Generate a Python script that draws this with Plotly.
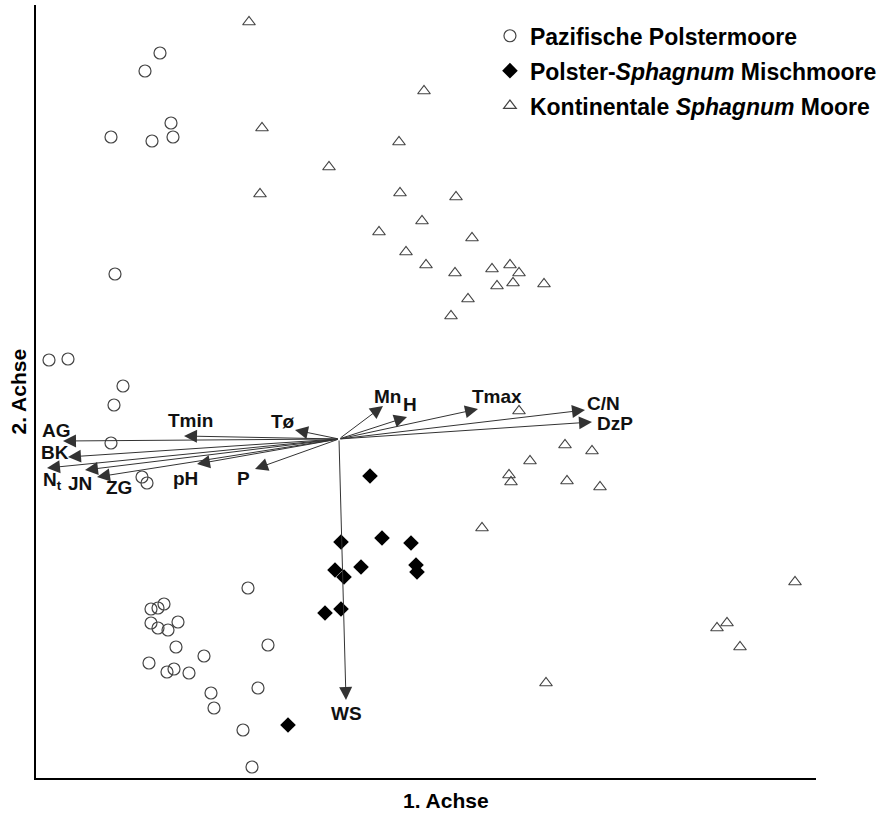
import plotly.graph_objects as go

# Ordination scores (axis 1, axis 2)
paz_x = [-1.79, -1.94, -1.68, -2.28, -1.87, -1.66, -2.24, -2.90, -2.71, -2.16, -2.25, -2.28,
         -1.97, -1.92, -0.91, -1.88, -1.81, -1.75, -1.61, -1.88, -1.81, -1.71, -0.71, -1.63,
         -1.35, -1.90, -1.72, -1.65, -1.50, -0.81, -1.28, -1.25, -0.96, -0.87]
paz_y = [3.86, 3.68, 3.16, 3.02, 2.98, 3.02, 1.65, 0.79, 0.80, 0.53, 0.34, -0.04,
         -0.38, -0.44, -1.49, -1.70, -1.69, -1.65, -1.83, -1.84, -1.89, -1.91, -2.06, -2.08,
         -2.17, -2.24, -2.33, -2.30, -2.34, -2.49, -2.54, -2.69, -2.91, -3.28]

mix_x = [0.31, 0.02, 0.43, 0.72, -0.04, 0.05, 0.22, 0.77, 0.78, -0.14, 0.02, -0.51]
mix_y = [-0.37, -1.03, -0.99, -1.04, -1.31, -1.38, -1.28, -1.26, -1.33, -1.74, -1.70, -2.86]

kon_x = [-0.90, -0.77, -0.79, 0.85, -0.10, 0.60, 0.61, 1.17, 0.83, 0.40, 1.33, 0.67,
         0.87, 1.16, 1.53, 1.71, 1.80, 1.58, 1.74, 2.05, 1.29, 1.12, 1.80, 2.26,
         2.53, 1.91, 1.70, 1.72, 2.28, 2.61, 1.43, 4.56, 3.78, 3.88, 4.01, 2.07]
kon_y = [4.17, 3.11, 2.45, 3.48, 2.72, 2.97, 2.46, 2.42, 2.18, 2.07, 2.01, 1.87,
         1.74, 1.66, 1.70, 1.74, 1.66, 1.53, 1.56, 1.55, 1.40, 1.23, 0.28, -0.06,
         -0.12, -0.22, -0.36, -0.43, -0.42, -0.48, -0.89, -1.43, -1.89, -1.84, -2.08, -2.44]

# Environmental vectors (tips) and label positions
vec_names = ["AG", "Tmin", "Tø", "BK", "N<sub>t</sub>", "JN", "ZG", "pH", "P",
             "Mn", "H", "Tmax", "C/N", "DzP", "WS"]
vec_x = [-2.76, -1.55, -0.44, -2.71, -2.92, -2.54, -2.42, -1.42, -0.84,
         0.44, 0.68, 1.39, 2.46, 2.53, 0.07]
vec_y = [-0.02, 0.03, 0.09, -0.18, -0.29, -0.31, -0.38, -0.25, -0.30,
         0.33, 0.22, 0.30, 0.29, 0.17, -2.61]
lab_x = [-2.83, -1.49, -0.56, -2.84, -2.87, -2.59, -2.20, -1.54, -0.96,
         0.48, 0.71, 1.58, 2.64, 2.76, 0.07]
lab_y = [0.09, 0.19, 0.18, -0.13, -0.42, -0.44, -0.48, -0.39, -0.39,
         0.43, 0.35, 0.43, 0.36, 0.16, -2.74]
origin = (0.0, 0.0)

FONT = "Liberation Sans, Arial, sans-serif"

fig = go.Figure()
fig.add_trace(go.Scatter(
    x=paz_x, y=paz_y, mode="markers", name="<b>Pazifische Polstermoore</b>",
    legendgroup="a",
    marker=dict(symbol="circle-open", size=12, color="#444444", line=dict(width=1.2))))
fig.add_trace(go.Scatter(
    x=mix_x, y=mix_y, mode="markers", name="<b>Polster-<i>Sphagnum</i> Mischmoore</b>",
    legendgroup="b",
    marker=dict(symbol="diamond", size=12, color="black")))
fig.add_trace(go.Scatter(
    x=kon_x, y=kon_y, mode="markers", name="<b>Kontinentale <i>Sphagnum</i> Moore</b>",
    legendgroup="c",
    marker=dict(symbol="triangle-up-open", size=11, color="#444444", line=dict(width=1.2))))

annotations = []
for n, tx, ty, lx, ly in zip(vec_names, vec_x, vec_y, lab_x, lab_y):
    annotations.append(dict(
        x=tx, y=ty, ax=origin[0], ay=origin[1], xref="x", yref="y", axref="x", ayref="y",
        showarrow=True, arrowhead=2, arrowsize=2.6, arrowwidth=1, arrowcolor="#333333",
        text="", standoff=0))
    annotations.append(dict(
        x=lx, y=ly, xref="x", yref="y", showarrow=False, text="<b>" + n + "</b>",
        font=dict(family=FONT, size=19, color="#111111")))
fig.update_layout(annotations=annotations)

fig.add_annotation(x=(446 - 36) / 780, y=-22 / 773, xref="paper", yref="paper",
                   text="<b>1. Achse</b>", showarrow=False, yanchor="middle",
                   font=dict(family=FONT, size=21, color="black"))
fig.add_annotation(x=-18 / 780, y=0.5, xref="paper", yref="paper",
                   text="<b>2. Achse</b>", showarrow=False, textangle=-90, xanchor="center",
                   font=dict(family=FONT, size=21, color="black"))

fig.update_layout(
    width=888, height=818,
    margin=dict(l=36, r=72, t=5, b=40),
    plot_bgcolor="white", paper_bgcolor="white",
    showlegend=True,
    legend=dict(x=0.582, y=0.988, xanchor="left", yanchor="top",
                font=dict(family=FONT, size=23, color="black"),
                tracegroupgap=2, bgcolor="rgba(0,0,0,0)"),
    xaxis=dict(range=[-3.03, 4.77], showgrid=False, zeroline=False, showticklabels=False,
               ticks="", showline=True, linecolor="black", linewidth=2, mirror=False),
    yaxis=dict(range=[-3.39, 4.34], showgrid=False, zeroline=False, showticklabels=False,
               ticks="", showline=True, linecolor="black", linewidth=2, mirror=False),
)

fig.write_html("out.html", config={"displayModeBar": False},
               post_script="document.body.style.margin='0';")
